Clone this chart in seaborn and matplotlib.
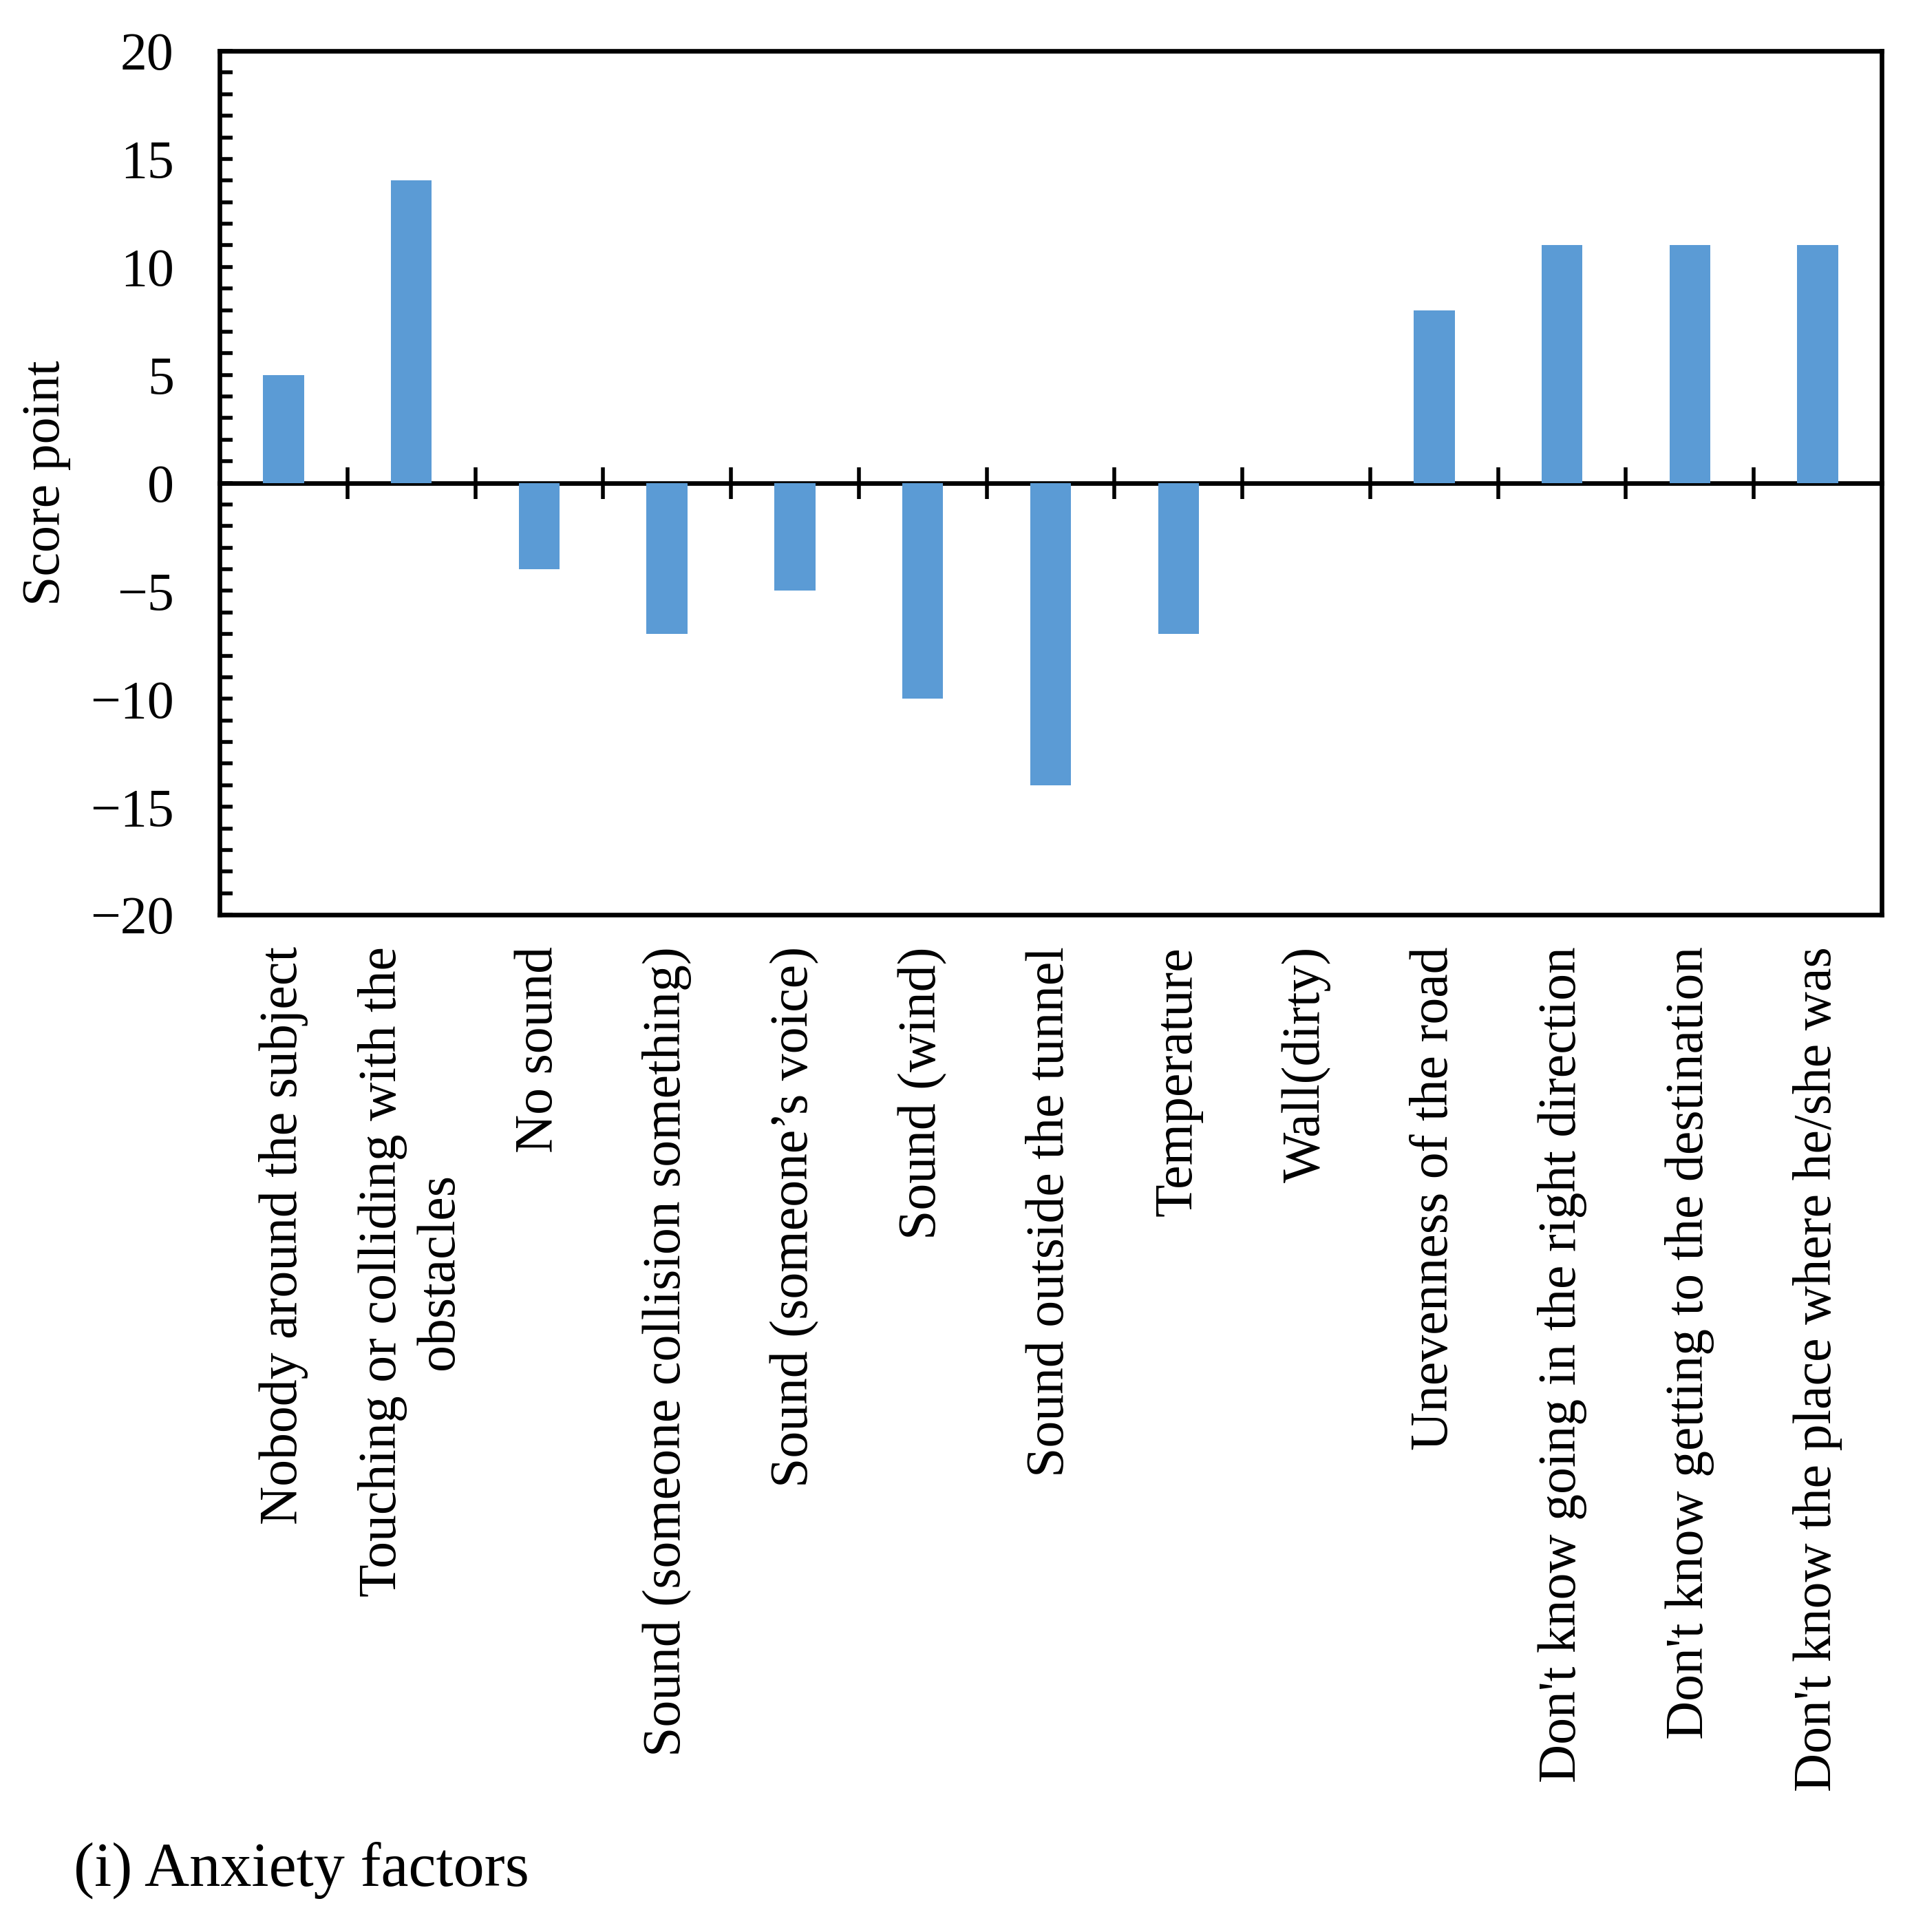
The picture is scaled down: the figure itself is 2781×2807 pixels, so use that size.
import numpy as np
import pandas as pd
import seaborn as sns
import matplotlib.pyplot as plt
from matplotlib.ticker import MultipleLocator

# Data
factors = [
    'Nobody around the subject',
    'Touching or colliding with the\nobstacles',
    'No sound',
    'Sound (someone collision something)',
    'Sound (someone\u2019s voice)',
    'Sound (wind)',
    'Sound outside the tunnel',
    'Temperature',
    'Wall(dirty)',
    'Unevenness of the road',
    "Don't know going in the right direction",
    "Don't know getting to the destination",
    "Don't know the place where he/she was",
]
scores = [5, 14, -4, -7, -5, -10, -14, -7, 0, 8, 11, 11, 11]
y_ticks = [-20, -15, -10, -5, 0, 5, 10, 15, 20]
y_label = 'Score point'
caption = '(i) Anxiety factors'

sns.set_style('white')
plt.rcParams['font.family'] = ['Liberation Serif', 'DejaVu Serif']
plt.rcParams['text.color'] = 'black'
plt.rcParams['axes.labelcolor'] = 'black'
plt.rcParams['xtick.color'] = 'black'
plt.rcParams['ytick.color'] = 'black'
plt.rcParams['axes.linewidth'] = 2.4

df = pd.DataFrame({'factor': factors, 'score': scores})

fig = plt.figure(figsize=(13.905, 14.035), dpi=200)
ax = fig.add_axes([0.1147, 0.5265, 0.8684, 0.4471])

sns.barplot(data=df, x='factor', y='score', order=factors, color='#5B9BD5',
            saturation=1, width=0.32, errorbar=None, linewidth=0, ax=ax)

ax.set_xlim(-0.5, len(factors) - 0.5)
ax.set_ylim(min(y_ticks), max(y_ticks))

# box frame
for s in ax.spines.values():
    s.set_visible(True)
    s.set_color('black')
    s.set_linewidth(2.4)

# category labels below the frame
ax.set_xticks(range(len(factors)))
ax.set_xticklabels(factors, rotation=90, ha='center', va='top',
                   multialignment='center', fontsize=28, color='black')
ax.tick_params(axis='x', length=0, pad=16.6)
ax.set_xlabel('')

# y axis
ax.set_yticks(y_ticks)
ax.yaxis.set_minor_locator(MultipleLocator(1))
ax.tick_params(axis='y', which='both', direction='in', length=7, width=2,
               left=True, right=False, pad=23.8, labelsize=28, color='black',
               labelcolor='black')
ax.set_ylabel(y_label, fontsize=28, labelpad=10, color='black')

# horizontal axis line at zero with ticks between categories
sec = ax.secondary_xaxis(0, transform=ax.transData)
sec.spines['bottom'].set_linewidth(2.4)
sec.spines['bottom'].set_color('black')
sec.set_xticks(np.arange(len(factors) - 1) + 0.5)
sec.set_xticklabels([])
sec.tick_params(axis='x', direction='inout', length=16.5, width=2,
                color='black', bottom=True)

fig.text(0.0385, 0.0239, caption, fontsize=32.5, va='baseline', color='black')

fig.savefig('out.png', dpi=200)
